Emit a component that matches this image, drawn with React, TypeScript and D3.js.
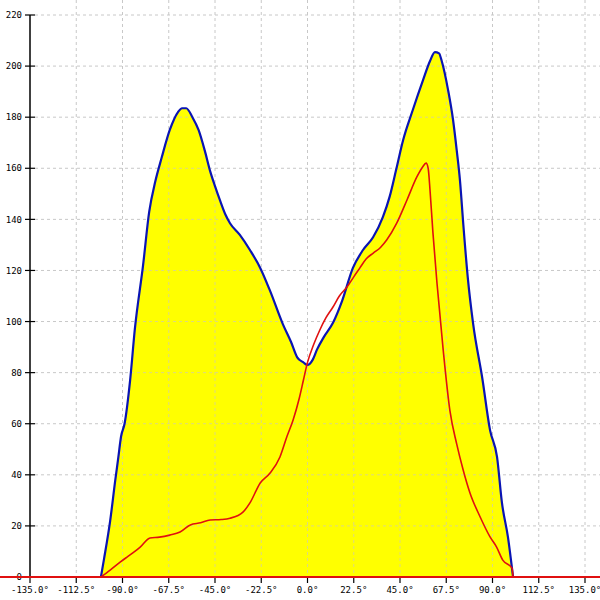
import React from "react";
import * as d3 from "d3";

const xTicks = [-135, -112.5, -90, -67.5, -45, -22.5, 0, 22.5, 45, 67.5, 90, 112.5, 135];
const yTicks = [0, 20, 40, 60, 80, 100, 120, 140, 160, 180, 200, 220];

const blueAngles = [-100.5, -99, -96, -93.5, -92, -90.7, -89, -86.3, -84, -80, -77, -74, -71, -67, -63, -61, -59, -56, -53, -50, -47.4, -45, -42.6, -40, -37.7, -33, -28, -23, -18.2, -12, -8, -5, -2, 0, 2.5, 4.6, 8, 12.4, 16.8, 22.1, 27, 31.9, 36.7, 40, 43, 46.5, 51.3, 56.2, 59.6, 62, 64, 65.3, 68.4, 70.8, 72.6, 74.2, 75.8, 78, 80.6, 85, 88.8, 92.2, 94.6, 97.5, 100];
const blueValues = [0, 7, 22, 38, 47, 55, 60, 77, 97, 122, 143, 155, 164, 175, 182, 183.5, 183.5, 180, 175, 167, 159, 153, 147.5, 142, 138.5, 134, 128, 121, 112, 99, 92, 86, 84, 83, 85, 89, 94, 99.5, 108, 121, 128, 133, 141, 149, 159, 171, 183, 194.5, 202, 205.5, 205, 202, 190.6, 179, 167, 155, 138, 117, 99, 78, 57.5, 47, 29, 15.7, 0];

const redAngles = [-100.5, -96, -91, -87.8, -84, -81.4, -76.6, -72, -67, -62, -57, -52, -47.4, -42, -37.7, -31.4, -28, -23, -18.2, -13.4, -10, -7, -4, -2, 0, 3, 6, 9, 12.4, 15.5, 19.2, 22.5, 25.5, 28.5, 32, 35.5, 38.6, 43.4, 48.4, 53.2, 56, 57.7, 58.7, 59.6, 61, 63, 66, 69.3, 72.6, 75.7, 79, 84, 88.8, 92, 95, 99.5, 100];
const redValues = [0, 2.7, 5.9, 7.8, 10, 11.7, 15.3, 15.6, 16.4, 17.6, 20.4, 21.2, 22.3, 22.5, 23, 25.4, 29, 36.8, 40.7, 47, 55, 61.5, 70, 77, 84, 91, 96.7, 101.5, 105.7, 110, 113.5, 117.5, 121, 124.5, 126.8, 129, 132, 138.5, 147.6, 156.6, 160.5, 162, 160, 151.5, 135, 115, 89, 65, 52, 42, 33, 23.5, 15.7, 11.7, 6.6, 3.5, 0];

const W = 600;
const H = 600;

export default function App() {
  const x = d3.scaleLinear().domain([-135, 135]).range([30, 585]);
  const y = d3.scaleLinear().domain([0, 220]).range([577, 15]);

  const blue = blueAngles.map((a, i) => [a, blueValues[i]] as [number, number]);
  const red = redAngles.map((a, i) => [a, redValues[i]] as [number, number]);

  const area = d3
    .area<[number, number]>()
    .x((d) => x(d[0]))
    .y0(y(0))
    .y1((d) => y(d[1]))
    .curve(d3.curveMonotoneX);
  const line = d3
    .line<[number, number]>()
    .x((d) => x(d[0]))
    .y((d) => y(d[1]))
    .curve(d3.curveMonotoneX);

  const font = "'DejaVu Sans Mono', monospace";
  const areaD = area(blue) || "";

  return (
    <div style={{ position: "absolute", left: 0, top: 0 }}>
      <svg width={W} height={H} style={{ display: "block", background: "#fff" }}>
        <defs>
          <clipPath id="fillclip">
            <path d={areaD} />
          </clipPath>
        </defs>
        {/* grid */}
        {yTicks.filter((t) => t !== 0).map((t) => (
          <line key={"gy" + t} x1={35} x2={600} y1={y(t)} y2={y(t)} stroke="#c8c8c8" strokeDasharray="3,3" strokeWidth={1} />
        ))}
        {xTicks.filter((t) => t !== -135).map((t) => (
          <line key={"gx" + t} x1={x(t)} x2={x(t)} y1={0} y2={577} stroke="#c8c8c8" strokeDasharray="3,3" strokeWidth={1} />
        ))}
        {/* fill */}
        <path d={areaD} fill="#ffff00" />
        {/* grid over fill (faint) */}
        <g clipPath="url(#fillclip)">
          {yTicks.filter((t) => t !== 0).map((t) => (
            <line key={"gyo" + t} x1={35} x2={600} y1={y(t)} y2={y(t)} stroke="#dcd880" strokeDasharray="3,3" strokeWidth={1} />
          ))}
          {xTicks.filter((t) => t !== -135).map((t) => (
            <line key={"gxo" + t} x1={x(t)} x2={x(t)} y1={0} y2={577} stroke="#dcd880" strokeDasharray="3,3" strokeWidth={1} />
          ))}
        </g>
        <path d={line(blue) || ""} fill="none" stroke="#0a14b4" strokeWidth={2.2} />
        <path d={line(red) || ""} fill="none" stroke="#e01010" strokeWidth={1.6} />
        {/* axes */}
        <line x1={30} x2={30} y1={15} y2={577} stroke="#000" strokeWidth={1.5} />
        {yTicks.map((t) => (
          <g key={"ty" + t}>
            <line x1={25} x2={35} y1={y(t)} y2={y(t)} stroke="#000" strokeWidth={1.2} />
            <text x={22} y={y(t)} dy="0.35em" textAnchor="end" fontFamily={font} fontSize={9} fill="#000">
              {t}
            </text>
          </g>
        ))}
        {xTicks.map((t) => (
          <g key={"tx" + t}>
            <line x1={x(t)} x2={x(t)} y1={577} y2={583} stroke="#000" strokeWidth={1.2} />
            <text x={x(t)} y={593} textAnchor="middle" fontFamily={font} fontSize={9} fill="#000">
              {t.toFixed(1) + "°"}
            </text>
          </g>
        ))}
        <line x1={0} x2={600} y1={577} y2={577} stroke="#e01010" strokeWidth={2} />
      </svg>
    </div>
  );
}
